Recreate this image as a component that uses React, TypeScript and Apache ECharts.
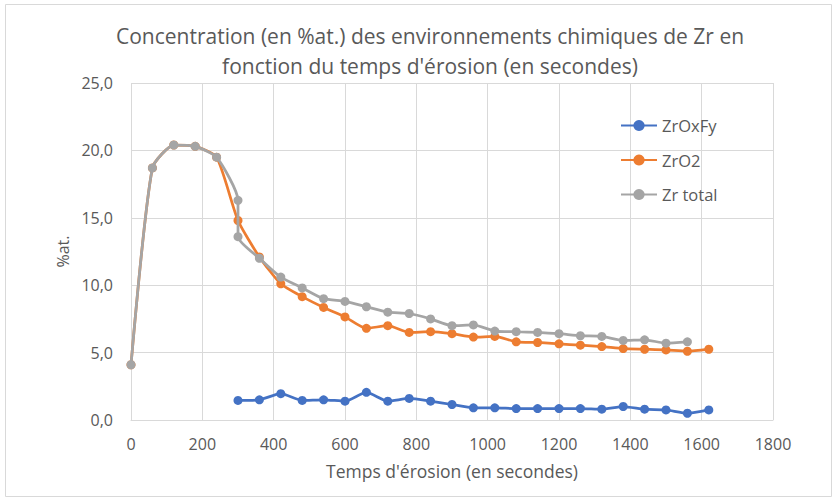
import React, { useEffect, useRef } from "react";
import * as echarts from "echarts";

const titleLines = [
  "Concentration (en %at.) des environnements chimiques de Zr en",
  "fonction du temps d'érosion (en secondes)",
];
const xAxisName = "Temps d'érosion (en secondes)";
const yAxisName = "%at.";
const seriesNames = ["ZrOxFy", "ZrO2", "Zr total"];
const colors = ["#4472C4", "#ED7D31", "#A5A5A5"];

// ZrOxFy
const timeZrOxFy = [300, 360, 420, 480, 540, 600, 660, 720, 780, 840, 900, 960, 1020, 1080, 1140, 1200, 1260, 1320, 1380, 1440, 1500, 1560, 1620];
const valZrOxFy = [1.45, 1.5, 1.95, 1.45, 1.5, 1.4, 2.05, 1.4, 1.6, 1.4, 1.15, 0.9, 0.9, 0.85, 0.85, 0.85, 0.85, 0.8, 1.0, 0.8, 0.75, 0.5, 0.75];

// ZrO2
const timeZrO2 = [0, 60, 120, 180, 240, 300, 360, 420, 480, 540, 600, 660, 720, 780, 840, 900, 960, 1020, 1080, 1140, 1200, 1260, 1320, 1380, 1440, 1500, 1560, 1620];
const valZrO2 = [4.1, 18.7, 20.4, 20.3, 19.5, 14.8, 12.1, 10.1, 9.15, 8.35, 7.65, 6.8, 7.0, 6.5, 6.55, 6.4, 6.15, 6.2, 5.8, 5.75, 5.65, 5.55, 5.45, 5.3, 5.25, 5.2, 5.1, 5.25];

// Zr total
const timeZrTotal = [0, 60, 120, 180, 240, 300, 300, 360, 420, 480, 540, 600, 660, 720, 780, 840, 900, 960, 1020, 1080, 1140, 1200, 1260, 1320, 1380, 1440, 1500, 1560];
const valZrTotal = [4.1, 18.7, 20.4, 20.3, 19.5, 16.3, 13.6, 12.0, 10.6, 9.8, 9.0, 8.8, 8.4, 8.0, 7.9, 7.5, 7.0, 7.05, 6.6, 6.55, 6.5, 6.4, 6.25, 6.2, 5.9, 5.95, 5.7, 5.8];

const xTicks = { min: 0, max: 1800, interval: 200 };
const yTicks = { min: 0, max: 25, interval: 5 };

const FONT = "'Open Sans', sans-serif";
const TEXT = "#595959";
const GRID = "#D9D9D9";

function zip(xs: number[], ys: number[]) {
  return xs.map((x, i) => [x, ys[i]]);
}

export default function App() {
  const ref = useRef<HTMLDivElement>(null);
  useEffect(() => {
    if (!ref.current) return;
    const chart = echarts.init(ref.current, undefined, { renderer: "svg" });
    const datasets = [
      zip(timeZrOxFy, valZrOxFy),
      zip(timeZrO2, valZrO2),
      zip(timeZrTotal, valZrTotal),
    ];
    chart.setOption({
      animation: false,
      backgroundColor: "#ffffff",
      textStyle: { fontFamily: FONT },
      graphic: [
        {
          type: "rect",
          shape: { x: 5.5, y: 4.5, width: 826, height: 492 },
          style: { fill: "none", stroke: GRID, lineWidth: 1 },
          silent: true,
        },
        {
          type: "text",
          x: 430,
          y: 36,
          style: {
            text: titleLines[0],
            fill: TEXT,
            font: `21px ${FONT}`,
            textAlign: "center",
            textVerticalAlign: "middle",
          },
        },
        {
          type: "text",
          x: 430,
          y: 66,
          style: {
            text: titleLines[1],
            fill: TEXT,
            font: `21px ${FONT}`,
            textAlign: "center",
            textVerticalAlign: "middle",
          },
        },
      ],
      grid: { left: 131, right: 65, top: 83, bottom: 81, containLabel: false },
      legend: {
        orient: "vertical",
        left: 615,
        top: 112,
        itemWidth: 36,
        itemHeight: 14,
        itemGap: 17.5,
        textStyle: { color: TEXT, fontSize: 16.5, fontFamily: FONT },
        data: seriesNames,
      },
      xAxis: {
        type: "value",
        min: xTicks.min,
        max: xTicks.max,
        interval: xTicks.interval,
        name: xAxisName,
        nameLocation: "middle",
        nameGap: 42,
        nameTextStyle: { color: TEXT, fontSize: 17.5, fontFamily: FONT },
        axisLine: { show: true, lineStyle: { color: GRID } },
        axisTick: { show: false },
        axisLabel: {
          color: TEXT,
          fontSize: 16,
          margin: 16,
          fontFamily: FONT,
          formatter: (v: number) => String(v),
        },
        splitLine: { show: true, lineStyle: { color: GRID, width: 1 } },
      },
      yAxis: {
        type: "value",
        min: yTicks.min,
        max: yTicks.max,
        interval: yTicks.interval,
        name: yAxisName,
        nameLocation: "middle",
        nameGap: 60,
        nameRotate: 90,
        nameTextStyle: { color: TEXT, fontSize: 16, fontFamily: FONT },
        axisLine: { show: false },
        axisTick: { show: false },
        axisLabel: {
          color: TEXT,
          fontSize: 16,
          margin: 18,
          fontFamily: FONT,
          formatter: (v: number) => v.toFixed(1).replace(".", ","),
        },
        splitLine: { show: true, lineStyle: { color: GRID, width: 1 } },
      },
      series: seriesNames.map((name, i) => ({
        name,
        type: "line",
        data: datasets[i],
        smooth: 0.2,
        symbol: "circle",
        symbolSize: 9,
        lineStyle: { color: colors[i], width: 2.75 },
        itemStyle: { color: colors[i] },
        z: 2 + i,
      })),
    });
    return () => chart.dispose();
  }, []);
  return (
    <div
      ref={ref}
      style={{ position: "fixed", left: 0, top: 0, width: 838, height: 501 }}
    />
  );
}
